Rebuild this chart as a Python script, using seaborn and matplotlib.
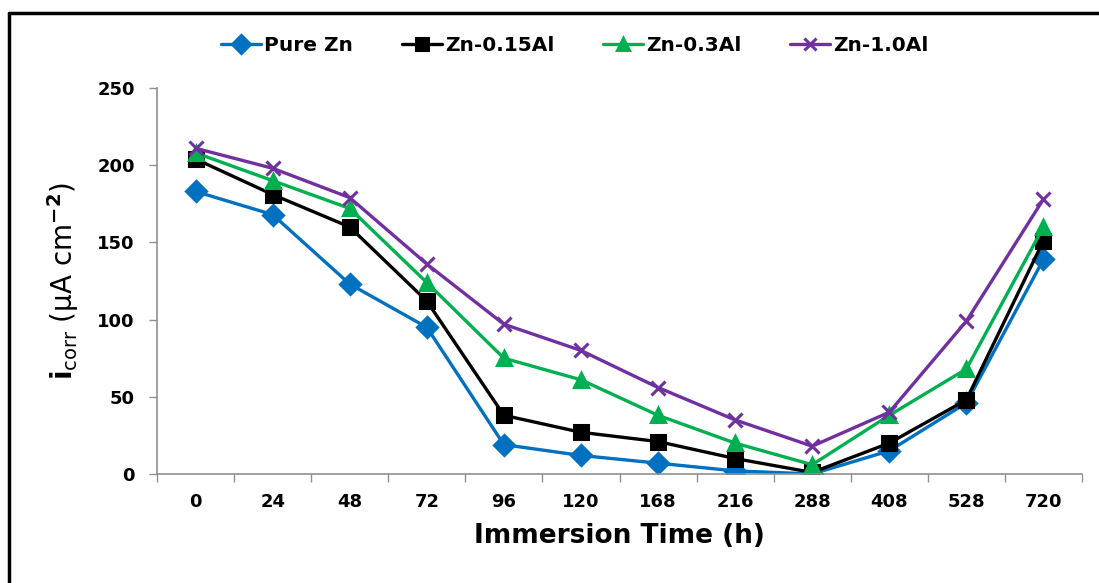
import numpy as np
import pandas as pd
import matplotlib
matplotlib.use("Agg")
import matplotlib.pyplot as plt
import seaborn as sns
from matplotlib.lines import Line2D

times = ["0", "24", "48", "72", "96", "120", "168", "216", "288", "408", "528", "720"]
series_names = ["Pure Zn", "Zn-0.15Al", "Zn-0.3Al", "Zn-1.0Al"]
pure_zn = [183, 168, 123, 95, 19, 12, 7, 2, 0, 15, 46, 139]
zn_015al = [204, 181, 160, 112, 38, 27, 21, 10, 1, 20, 48, 151]
zn_03al = [208, 190, 172, 124, 75, 61, 38, 20, 6, 38, 68, 160]
zn_10al = [211, 198, 179, 136, 97, 80, 56, 35, 18, 40, 99, 178]
y_ticks = [0, 50, 100, 150, 200, 250]

colors = ["#0070C0", "#000000", "#00B050", "#7030A0"]
markers = ["D", "s", "^", "x"]

rows = []
for name, vals in zip(series_names, [pure_zn, zn_015al, zn_03al, zn_10al]):
    for t, v in zip(times, vals):
        rows.append({"Time": t, "icorr": v, "Alloy": name})
df = pd.DataFrame(rows)

sns.set_theme(style="white")
plt.rcParams["font.family"] = ["DejaVu Sans"]
plt.rcParams["text.color"] = "black"
plt.rcParams["axes.labelcolor"] = "black"

fig = plt.figure(figsize=(10.99, 5.83), dpi=100)
ax = fig.add_axes([0.1429, 0.187, 0.8416, 0.662])

sns.pointplot(data=df, x="Time", y="icorr", hue="Alloy", order=times,
              hue_order=series_names, palette=colors, markers=markers,
              linestyles="-", dodge=False, errorbar=None, ax=ax,
              markersize=10, linewidth=2.4, legend=False)

for line in ax.lines:
    line.set_markeredgewidth(2.2)
    line.set_markeredgecolor(line.get_color())

ax.set_xlim(-0.5, len(times) - 0.5)
ax.set_ylim(0, 250)
ax.set_yticks(y_ticks)
ax.set_yticklabels([str(v) for v in y_ticks], fontsize=13, fontweight="bold")
ax.set_xticks(range(len(times)))
ax.set_xticklabels(times, fontsize=13, fontweight="bold")
ax.set_xticks(np.arange(-0.5, len(times), 1.0), minor=True)
ax.tick_params(axis="x", which="major", length=0, pad=14, labelcolor="black")
ax.tick_params(axis="x", which="minor", length=6, color="#909090", width=1, direction="out", bottom=True)
ax.tick_params(axis="y", which="major", length=6, color="#909090", width=1, direction="out", left=True, pad=10, labelcolor="black")

for s in ["top", "right"]:
    ax.spines[s].set_visible(False)
for s in ["left", "bottom"]:
    ax.spines[s].set_color("#909090")
    ax.spines[s].set_linewidth(1.2)
ax.grid(False)

ax.set_xlabel("Immersion Time (h)", fontsize=19, fontweight="bold", labelpad=8)
ax.set_ylabel(r"$\mathregular{\mathbf{i}_{corr}}$ (µA cm$^{\mathbf{-2}}$)", fontsize=20, labelpad=12)

handles = [Line2D([0], [0], color=c, marker=m, lw=2.4, markersize=9, markeredgewidth=2.2,
                  markeredgecolor=c) for c, m in zip(colors, markers)]
fig.legend(handles, series_names, loc="center", bbox_to_anchor=(0.523, 0.922), ncol=4,
           frameon=False, prop={"weight": "bold", "size": 14.5}, handlelength=2.0,
           handletextpad=0.15, columnspacing=2.4, labelcolor="black")

fig.add_artist(Line2D([0.0085, 0.0085], [0.0, 0.977], transform=fig.transFigure, color="black", lw=2.5))
fig.add_artist(Line2D([0.0085, 1.0], [0.977, 0.977], transform=fig.transFigure, color="black", lw=2.5))

fig.savefig("out.png", dpi=100)
